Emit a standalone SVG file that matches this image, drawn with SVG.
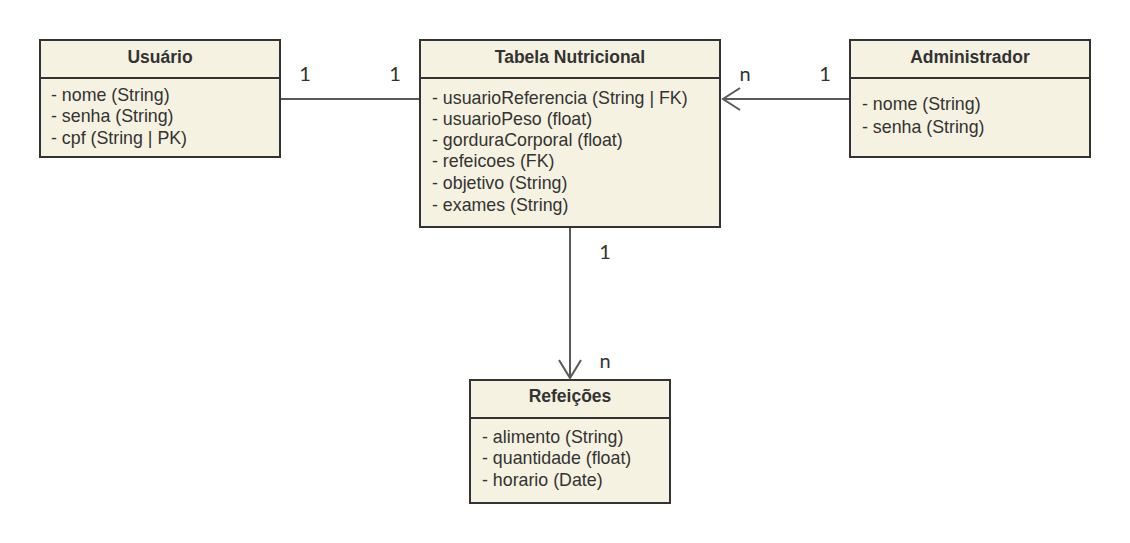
<svg xmlns="http://www.w3.org/2000/svg" width="1130" height="543" viewBox="0 0 1130 543">
<style>
.box{fill:#f5f2e1;stroke:#333333;stroke-width:2}
.div{stroke:#333333;stroke-width:2}
.title{font-family:"Liberation Sans",Arial,sans-serif;font-weight:bold;font-size:17.5px;fill:#333333;text-anchor:middle}
.attr{font-family:"Liberation Sans",Arial,sans-serif;font-size:17.8px;fill:#333333}
.lbl{font-family:Lato,"Liberation Sans",sans-serif;font-size:20px;fill:#333333;text-anchor:middle}
.conn{stroke:#595959;stroke-width:2;fill:none}
</style>
<rect width="1130" height="543" fill="#ffffff"/>
<g id="usuario">
<rect class="box" x="40" y="40" width="240" height="117"/>
<line class="div" x1="40" y1="78" x2="280" y2="78"/>
<text class="title" x="160" y="63">Usuário</text>
<text class="attr" x="51" y="101">- nome (String)</text>
<text class="attr" x="51" y="122">- senha (String)</text>
<text class="attr" x="51" y="144">- cpf (String | PK)</text>
</g>
<g id="tabela">
<rect class="box" x="420" y="40" width="300" height="187"/>
<line class="div" x1="420" y1="78" x2="720" y2="78"/>
<text class="title" x="570" y="63">Tabela Nutricional</text>
<text class="attr" x="432" y="104">- usuarioReferencia (String | FK)</text>
<text class="attr" x="432" y="125">- usuarioPeso (float)</text>
<text class="attr" x="432" y="146">- gorduraCorporal (float)</text>
<text class="attr" x="432" y="167">- refeicoes (FK)</text>
<text class="attr" x="432" y="189">- objetivo (String)</text>
<text class="attr" x="432" y="211">- exames (String)</text>
</g>
<g id="administrador">
<rect class="box" x="850" y="40" width="240" height="117"/>
<line class="div" x1="850" y1="78" x2="1090" y2="78"/>
<text class="title" x="970" y="63">Administrador</text>
<text class="attr" x="862" y="110">- nome (String)</text>
<text class="attr" x="862" y="133">- senha (String)</text>
</g>
<g id="refeicoes">
<rect class="box" x="470" y="380" width="200" height="123"/>
<line class="div" x1="470" y1="418" x2="670" y2="418"/>
<text class="title" x="570" y="402">Refeições</text>
<text class="attr" x="482" y="443">- alimento (String)</text>
<text class="attr" x="482" y="464">- quantidade (float)</text>
<text class="attr" x="482" y="486">- horario (Date)</text>
</g>
<g id="connectors">
<line class="conn" x1="281" y1="99" x2="419" y2="99"/>
<line class="conn" x1="849" y1="99" x2="723" y2="99"/>
<polyline class="conn" points="740,88 723,99 740,110"/>
<line class="conn" x1="570" y1="228" x2="570" y2="378"/>
<polyline class="conn" points="559,360 570,378 581,360"/>
<text class="lbl" x="305" y="81">1</text>
<text class="lbl" x="395" y="81">1</text>
<text class="lbl" x="745" y="81">n</text>
<text class="lbl" x="825" y="81">1</text>
<text class="lbl" x="605" y="259">1</text>
<text class="lbl" x="605" y="368">n</text>
</g>
</svg>
